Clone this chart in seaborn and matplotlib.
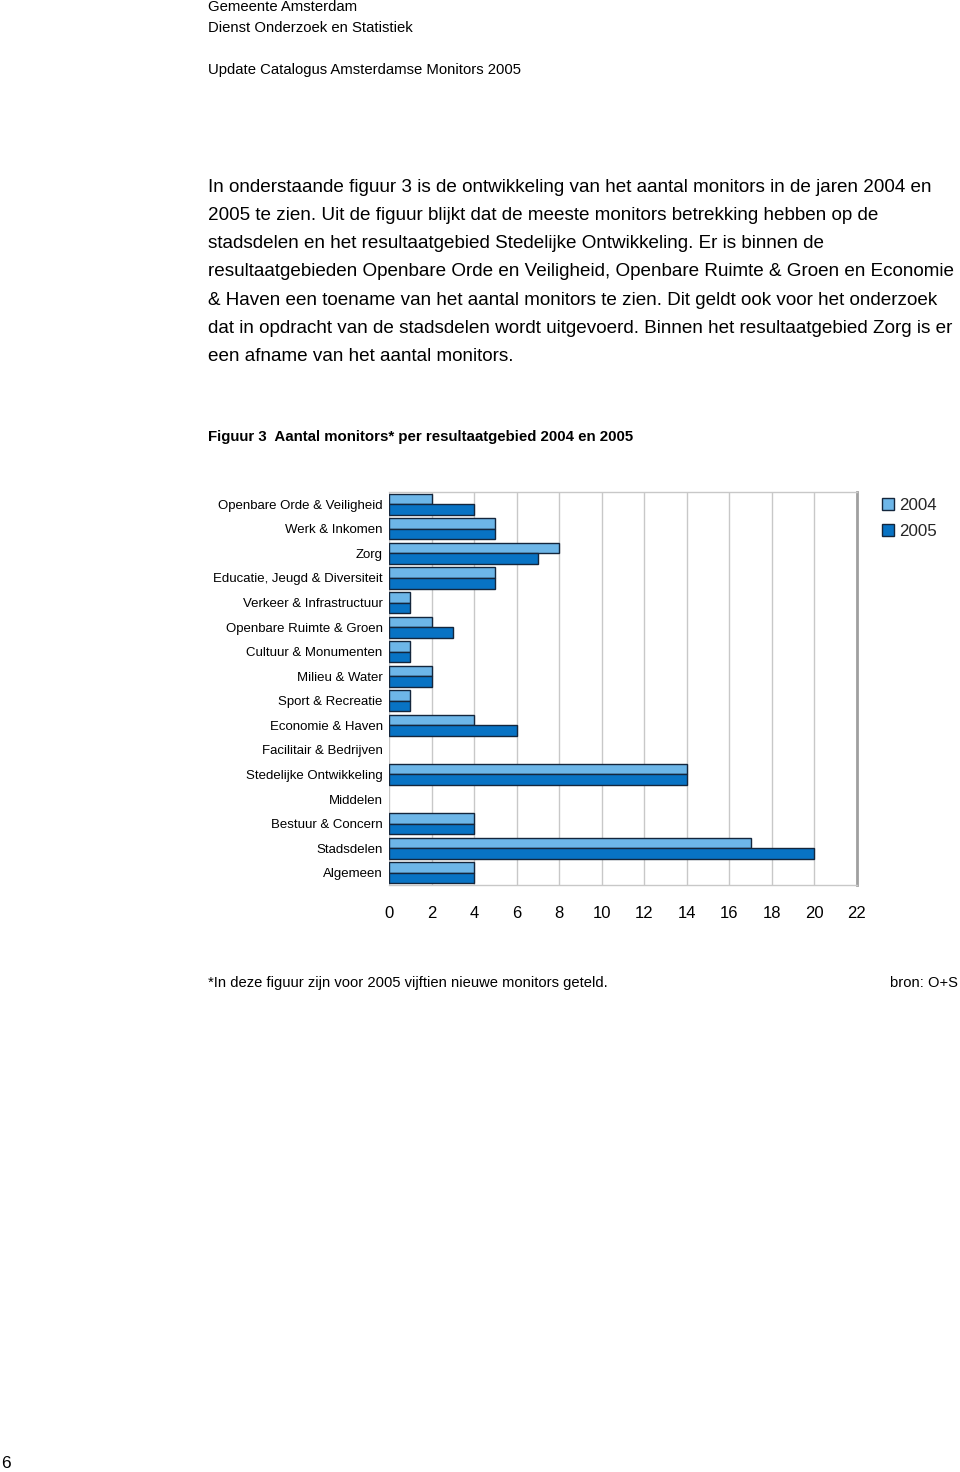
import matplotlib
matplotlib.use("Agg")
import matplotlib.pyplot as plt
import seaborn as sns
import pandas as pd

categories = [
    "Openbare Orde & Veiligheid", "Werk & Inkomen", "Zorg",
    "Educatie, Jeugd & Diversiteit", "Verkeer & Infrastructuur",
    "Openbare Ruimte & Groen", "Cultuur & Monumenten", "Milieu & Water",
    "Sport & Recreatie", "Economie & Haven", "Facilitair & Bedrijven",
    "Stedelijke Ontwikkeling", "Middelen", "Bestuur & Concern",
    "Stadsdelen", "Algemeen",
]
values_2004 = [2, 5, 8, 5, 1, 2, 1, 2, 1, 4, 0, 14, 0, 4, 17, 4]
values_2005 = [4, 5, 7, 5, 1, 3, 1, 2, 1, 6, 0, 14, 0, 4, 20, 4]
years = ["2004", "2005"]
x_ticks = list(range(0, 23, 2))

header_lines = ["Gemeente Amsterdam", "Dienst Onderzoek en Statistiek", "",
                "Update Catalogus Amsterdamse Monitors 2005"]
body_lines = [
    "In onderstaande figuur 3 is de ontwikkeling van het aantal monitors in de jaren 2004 en",
    "2005 te zien. Uit de figuur blijkt dat de meeste monitors betrekking hebben op de",
    "stadsdelen en het resultaatgebied Stedelijke Ontwikkeling. Er is binnen de",
    "resultaatgebieden Openbare Orde en Veiligheid, Openbare Ruimte & Groen en Economie",
    "& Haven een toename van het aantal monitors te zien. Dit geldt ook voor het onderzoek",
    "dat in opdracht van de stadsdelen wordt uitgevoerd. Binnen het resultaatgebied Zorg is er",
    "een afname van het aantal monitors.",
]
fig_title = "Figuur 3  Aantal monitors* per resultaatgebied 2004 en 2005"
footnote = "*In deze figuur zijn voor 2005 vijftien nieuwe monitors geteld."
source = "bron: O+S"

df = pd.DataFrame({
    "category": categories * 2,
    "value": values_2004 + values_2005,
    "year": [years[0]] * len(categories) + [years[1]] * len(categories),
})

sns.set_theme(style="white")
plt.rcParams["font.family"] = ["Liberation Sans", "DejaVu Sans"]

W, H = 960, 1472
fig = plt.figure(figsize=(W / 100, H / 100), dpi=100)
fig.patch.set_facecolor("white")

def fx(px):
    return px / W

def fy(py):
    return 1 - py / H

ax = fig.add_axes([fx(389), fy(885), fx(857) - fx(389), fy(492) - fy(885)])

edge = "#14263c"
palette = {"2004": "#6db6e8", "2005": "#0873c4"}
sns.barplot(data=df, y="category", x="value", hue="year", orient="h",
            palette=palette, width=0.86, edgecolor=edge, linewidth=1.0,
            saturation=1, ax=ax, legend=True)

# hide outlines of empty (zero-length) bars
for p in ax.patches:
    if p.get_width() == 0:
        p.set_linewidth(0)

ax.set_xlim(0, 22)
ax.set_ylim(len(categories) - 0.5, -0.5)
ax.set_xticks(x_ticks)
ax.set_xticklabels([str(t) for t in x_ticks], fontsize=12)
ax.tick_params(axis="x", length=0, pad=15, colors="black")
ax.tick_params(axis="y", length=0, pad=4.5, labelsize=9.5, colors="black")
ax.set_xlabel("")
ax.set_ylabel("")
ax.set_axisbelow(True)
ax.grid(axis="x", color="#c8c8c8", linewidth=1.0)
ax.grid(axis="y", visible=False)
for side in ["top", "bottom"]:
    ax.spines[side].set_color("#c8c8c8")
    ax.spines[side].set_linewidth(1.0)
ax.spines["right"].set_color("#a0a0a0")
ax.spines["right"].set_linewidth(2.0)
ax.spines["left"].set_visible(False)

handles, labels = ax.get_legend_handles_labels()
leg = ax.legend(handles, labels, loc="upper left",
                bbox_to_anchor=(fx(881.5), fy(498)), bbox_transform=fig.transFigure,
                frameon=False, fontsize=12.2, handlelength=0.72, handleheight=0.72,
                handletextpad=0.3, labelspacing=0.62, borderaxespad=0, borderpad=0)
for h in leg.get_patches():
    h.set_edgecolor(edge)
    h.set_linewidth(1.0)

# Page text
for i, line in enumerate(header_lines):
    if line:
        fig.text(fx(208), fy([7, 28, 49, 70][i]), line, fontsize=10.75,
                 va="center", ha="left", color="black")

for i, line in enumerate(body_lines):
    fig.text(fx(208), fy(187 + i * 28.3), line, fontsize=13.55,
             va="center", ha="left", color="black")

fig.text(fx(208), fy(437), fig_title, fontsize=10.8, fontweight="bold",
         va="center", ha="left", color="black")
fig.text(fx(208), fy(983), footnote, fontsize=10.65, va="center", ha="left",
         color="black")
fig.text(fx(958), fy(983), source, fontsize=10.65, va="center", ha="right",
         color="black")
fig.text(fx(1), fy(1463), "6", fontsize=12.5, va="center", ha="left",
         color="black")

fig.savefig("out.png", dpi=100, facecolor="white")
